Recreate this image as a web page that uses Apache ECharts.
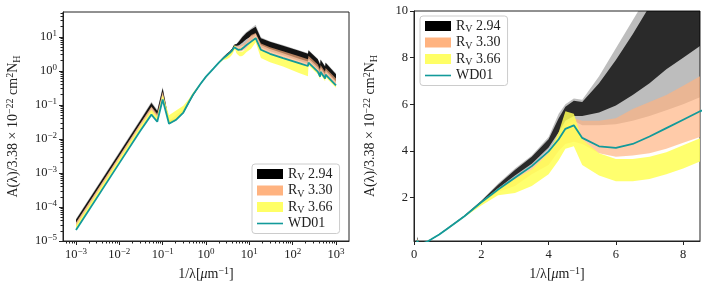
<!DOCTYPE html>
<html><head><meta charset="utf-8">
<script src="https://cdn.jsdelivr.net/npm/echarts@6/dist/echarts.min.js"></script>
<style>html,body{margin:0;padding:0;background:#fff}#c{width:712px;height:290px}</style>
</head><body><div id="c"></div>
<script>
// ---- data (1/lambda in um^-1) ----
const waveNumber = [0.001, 0.01, 0.03, 0.055, 0.075, 0.1, 0.14, 0.2, 0.3, 0.4, 0.5, 0.75, 1, 1.5, 2, 2.5, 3, 3.5, 4, 4.3, 4.5, 4.75, 5, 5.5, 6, 6.5, 7, 7.5, 8, 8.5, 11, 14, 18.5, 30, 60, 140, 225, 232, 380, 430, 440, 560, 575, 1000];
const wd01 = [2.1e-5, 1.95e-3, 0.017, 0.052, 0.032, 0.145, 0.028, 0.036, 0.06, 0.12, 0.2, 0.42, 0.68, 1.2, 1.8, 2.35, 2.85, 3.35, 3.98, 4.5, 4.95, 5.1, 4.56, 4.2, 4.13, 4.3, 4.62, 4.98, 5.34, 5.7, 7.3, 9.2, 4.2, 3.2, 2.4, 1.7, 1.4, 1.75, 0.96, 0.68, 0.95, 0.6, 0.78, 0.38];
const rv294OuterLo = [2.9e-5, 2.7e-3, 0.024, 0.075, 0.045, 0.2, 0.028, 0.034, 0.056, 0.105, 0.18, 0.4, 0.64, 1.18, 1.78, 2.35, 2.87, 3.38, 4.05, 4.6, 5.1, 5.3, 5.1, 5.1, 5.15, 5.3, 5.5, 5.75, 6.0, 6.3, 8.0, 11, 5.0, 3.8, 2.9, 2.0, 1.65, 2.05, 1.12, 0.8, 1.1, 0.7, 0.9, 0.45];
const rv294OuterHi = [4.5e-5, 4.2e-3, 0.037, 0.125, 0.072, 0.34, 0.036, 0.04, 0.066, 0.125, 0.21, 0.44, 0.72, 1.24, 1.88, 2.6, 3.25, 3.8, 4.6, 5.6, 6.0, 6.25, 6.2, 7.2, 8.4, 9.6, 10.8, 12, 13, 14, 18, 23, 9.8, 7.5, 5.8, 4.1, 3.4, 4.2, 2.3, 1.6, 2.25, 1.4, 1.8, 0.85];
const rv294CoreLo = [3.4e-5, 3.1e-3, 0.027, 0.085, 0.05, 0.23, 0.029, 0.035, 0.058, 0.11, 0.185, 0.41, 0.66, 1.19, 1.8, 2.4, 2.95, 3.45, 4.15, 4.8, 5.3, 5.5, 5.5, 5.65, 5.95, 6.4, 6.9, 7.5, 8.0, 8.5, 10.5, 12.5, 5.8, 4.4, 3.3, 2.3, 1.9, 2.35, 1.3, 0.92, 1.28, 0.8, 1.05, 0.5];
const rv294CoreHi = [4.2e-5, 3.9e-3, 0.034, 0.115, 0.066, 0.31, 0.034, 0.039, 0.064, 0.12, 0.205, 0.435, 0.7, 1.23, 1.86, 2.55, 3.18, 3.75, 4.5, 5.4, 5.9, 6.15, 6.1, 6.9, 7.9, 9.0, 10.2, 11, 12, 13, 16.5, 20, 9.2, 7.2, 5.5, 3.9, 3.2, 4.0, 2.2, 1.55, 2.15, 1.35, 1.75, 0.8];
const rv330Lo = [2.6e-5, 2.4e-3, 0.021, 0.065, 0.04, 0.18, 0.028, 0.036, 0.058, 0.115, 0.19, 0.41, 0.66, 1.18, 1.74, 2.25, 2.5, 3.0, 3.4, 4.0, 4.3, 4.4, 4.3, 3.9, 3.75, 3.8, 3.9, 4.1, 4.35, 4.6, 6.7, 8.8, 4.0, 3.0, 2.3, 1.6, 1.35, 1.7, 0.93, 0.66, 0.92, 0.58, 0.75, 0.37];
const rv330Hi = [3.5e-5, 3.2e-3, 0.028, 0.09, 0.055, 0.25, 0.034, 0.05, 0.075, 0.135, 0.215, 0.43, 0.7, 1.22, 1.82, 2.4, 2.85, 3.35, 3.95, 4.55, 5.2, 5.4, 5.3, 5.3, 5.4, 5.8, 6.1, 6.4, 6.8, 7.2, 11.5, 13, 6.4, 5.0, 3.8, 2.7, 2.2, 2.8, 1.55, 1.1, 1.5, 0.95, 1.22, 0.6];
const rv366Lo = [2.2e-5, 2.05e-3, 0.018, 0.055, 0.034, 0.15, 0.029, 0.037, 0.06, 0.12, 0.2, 0.41, 0.64, 1.17, 1.66, 2.1, 2.2, 2.5, 3.0, 3.6, 4.1, 4.2, 3.4, 2.95, 2.7, 2.7, 2.8, 3.0, 3.25, 3.55, 4.5, 7, 2.4, 1.8, 1.35, 0.87, 0.7, 1.45, 0.8, 0.57, 0.8, 0.5, 0.65, 0.32];
const rv366Hi = [2.9e-5, 2.7e-3, 0.0235, 0.072, 0.045, 0.2, 0.05, 0.068, 0.095, 0.15, 0.23, 0.44, 0.7, 1.22, 1.78, 2.35, 2.8, 3.2, 3.9, 4.8, 5.7, 5.6, 4.5, 3.9, 3.65, 3.65, 3.75, 3.95, 4.25, 4.55, 7.5, 10, 4.4, 3.3, 2.5, 1.75, 1.45, 1.8, 1.0, 0.7, 0.98, 0.62, 0.8, 0.39];
const legendNames = ['RV 2.94', 'RV 3.30', 'RV 3.66', 'WD01'];
// ---- ticks ----
const logTicksX = [1e-3, 1e-2, 1e-1, 1, 10, 100, 1000];
const logTicksY = [1e-5, 1e-4, 1e-3, 1e-2, 1e-1, 1, 10];
const linTicksX = [0, 2, 4, 6, 8];
const linTicksY = [2, 4, 6, 8, 10];
const XL = [Math.pow(10, -3.3), Math.pow(10, 3.3)];
const YL = [1e-5, Math.pow(10, 1.734)];
function minorTicks(decMin, decMax, lim) {
  const out = [];
  for (let d = decMin; d <= decMax; d++) for (let k = 2; k <= 9; k++) {
    const v = k * Math.pow(10, d);
    if (v >= lim[0] && v <= lim[1]) out.push(v);
  }
  return out;
}
const allTicksX = logTicksX.concat(minorTicks(-4, 3, XL)).sort((a, b) => a - b);
const allTicksY = logTicksY.concat(minorTicks(-6, 1, YL)).sort((a, b) => a - b);

const F = "'Liberation Serif', 'DejaVu Serif', serif";
const C = '#222';
const rich = {
  n: {fontFamily: F, fontSize: 14, color: C, lineHeight: 17},
  i: {fontFamily: F, fontSize: 14, fontStyle: 'italic', color: C, lineHeight: 17},
  sup: {fontFamily: F, fontSize: 10, color: C, verticalAlign: 'top', lineHeight: 10},
  sub: {fontFamily: F, fontSize: 10, color: C, verticalAlign: 'bottom', lineHeight: 10},
  t: {fontFamily: F, fontSize: 12.5, color: C, lineHeight: 15},
  ts: {fontFamily: F, fontSize: 9, color: C, verticalAlign: 'top', lineHeight: 9}
};
const xName = '{n|1/λ[}{i|μ}{n|m}{sup|−1}{n|]}';
const yName = '{n|A(λ)/3.38 × 10}{sup|−22}{n| cm}{sup|2}{n|N}{sub|H}';
const powFmt = v => { const e = Math.round(Math.log10(v)); return '{t|10}{ts|' + String(e).replace('-', '−') + '}'; };

function band(lo, hi, name, color, opacity, ax, z) {
  return {
    type: 'custom', name: name, xAxisIndex: ax, yAxisIndex: ax, silent: true, z: z,
    itemStyle: {color: color},
    encode: {x: 0, y: [1, 2]},
    data: waveNumber.map((v, i) => [v, lo[i], hi[i]]),
    renderItem: function (params, api) {
      if (params.dataIndex !== 0) return null;
      const top = waveNumber.map((v, i) => api.coord([v, hi[i]]));
      const bot = waveNumber.map((v, i) => api.coord([v, lo[i]])).reverse();
      const cs = params.coordSys;
      return {
        type: 'polygon', shape: {points: top.concat(bot)},
        style: {fill: color, opacity: opacity},
        clipPath: {type: 'rect', shape: {x: cs.x, y: cs.y, width: cs.width, height: cs.height}}
      };
    }
  };
}
function panelSeries(ax) {
  return [
    band(rv294OuterLo, rv294OuterHi, 'RV 2.94 outer', '#000000', 0.26, ax, 2),
    band(rv294CoreLo, rv294CoreHi, legendNames[0], '#000000', ax === 0 ? 0.9 : 0.78, ax, 3),
    band(rv330Lo, rv330Hi, legendNames[1], '#ffb380', 0.68, ax, 4),
    band(rv366Lo, rv366Hi, legendNames[2], '#ffff55', 0.85, ax, 5),
    {type: 'line', name: legendNames[3], xAxisIndex: ax, yAxisIndex: ax, symbol: 'none', showSymbol: false, color: '#129a9a',
     lineStyle: {width: 1.8, color: '#129a9a'}, data: waveNumber.map((v, i) => [v, wd01[i]]), z: 6}
  ];
}
const legendData = [
  {name: legendNames[0], icon: 'rect', itemStyle: {color: '#000', opacity: 1}},
  {name: legendNames[1], icon: 'rect', itemStyle: {color: '#ffb380', opacity: 1}},
  {name: legendNames[2], icon: 'rect', itemStyle: {color: '#ffff66', opacity: 1}},
  {name: legendNames[3], icon: 'path://M0,0M0,10M0,4.2L26,4.2L26,5.8L0,5.8Z', itemStyle: {color: '#129a9a', opacity: 1}}
];
const legendFmt = name => name === 'WD01' ? '{n|WD01}' : '{n|R}{sub|V}{n| ' + name.slice(3) + '}';
function legend(left, top) {
  return {left: left, top: top, orient: 'vertical', data: legendData, itemWidth: 26, itemHeight: 10, itemGap: 1,
    backgroundColor: 'rgba(255,255,255,0.85)', borderColor: '#cccccc', borderWidth: 1, borderRadius: 3,
    padding: [3, 7, 3, 5], selectedMode: false, formatter: legendFmt, textStyle: {rich: rich, fontFamily: F, fontSize: 14, color: C}};
}
const axLine = {show: true, onZero: false, lineStyle: {color: C, width: 1}};
const hiddenLine = {show: true, onZero: false, lineStyle: {color: C, width: 1, opacity: 0}};
const option = {
  animation: false,
  backgroundColor: '#fff',
  grid: [
    {left: 63, top: 12, width: 286, height: 229, show: true, borderColor: C, borderWidth: 1},
    {left: 414, top: 11, width: 286, height: 230, show: true, borderColor: C, borderWidth: 1},
    {left: 63, top: 12, width: 286, height: 229, show: false}
  ],
  xAxis: [
    {type: 'log', logBase: 10, gridIndex: 0, min: XL[0], max: XL[1], axisLine: axLine,
     axisTick: {show: true, length: 2.5, customValues: allTicksX, lineStyle: {color: C}},
     axisLabel: {customValues: logTicksX, formatter: powFmt, rich: rich, margin: 6},
     splitLine: {show: false}, name: xName, nameLocation: 'middle', nameGap: 25, nameTextStyle: {rich: rich}},
    {type: 'value', gridIndex: 1, min: 0, max: 8.5, axisLine: axLine,
     axisTick: {show: true, length: 4, customValues: linTicksX, lineStyle: {color: C}},
     axisLabel: {customValues: linTicksX, rich: rich, formatter: v => '{t|' + v + '}', margin: 6},
     splitLine: {show: false}, name: xName, nameLocation: 'middle', nameGap: 25, nameTextStyle: {rich: rich}},
    {type: 'log', logBase: 10, gridIndex: 2, min: XL[0], max: XL[1], axisLine: hiddenLine,
     axisTick: {show: true, length: 4, customValues: logTicksX, lineStyle: {color: C}},
     axisLabel: {show: true, customValues: logTicksX, formatter: () => '', margin: 6}, splitLine: {show: false}}
  ],
  yAxis: [
    {type: 'log', logBase: 10, gridIndex: 0, min: YL[0], max: YL[1], axisLine: axLine,
     axisTick: {show: true, length: 2.5, customValues: allTicksY, lineStyle: {color: C}},
     axisLabel: {customValues: logTicksY, formatter: powFmt, rich: rich, margin: 6},
     splitLine: {show: false}, name: yName, nameLocation: 'middle', nameGap: 41, nameTextStyle: {rich: rich}},
    {type: 'value', gridIndex: 1, min: 0.14, max: 10, axisLine: axLine,
     axisTick: {show: true, length: 4, customValues: linTicksY, lineStyle: {color: C}},
     axisLabel: {customValues: linTicksY, rich: rich, formatter: v => '{t|' + v + '}', margin: 6},
     splitLine: {show: false}, name: yName, nameLocation: 'middle', nameGap: 35, nameTextStyle: {rich: rich}},
    {type: 'log', logBase: 10, gridIndex: 2, min: YL[0], max: YL[1], axisLine: hiddenLine,
     axisTick: {show: true, length: 4, customValues: logTicksY, lineStyle: {color: C}},
     axisLabel: {show: true, customValues: logTicksY, formatter: () => '', margin: 6}, splitLine: {show: false}}
  ],
  legend: [legend(252, 164), legend(420, 16)],
  series: panelSeries(0).concat(panelSeries(1))
};
const chart = echarts.init(document.getElementById('c'), null, {renderer: 'canvas'});
chart.setOption(option);
</script>
</body></html>
